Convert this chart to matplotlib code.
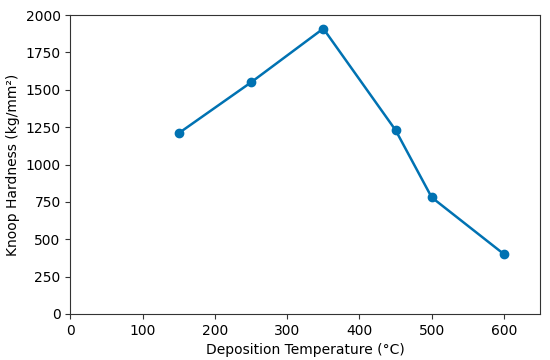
import matplotlib
matplotlib.use("Agg")
import matplotlib.pyplot as plt

# Deposition temperature vs Knoop hardness
temps = [150, 250, 350, 450, 500, 600]
hardness = [1210, 1550, 1910, 1230, 780, 400]

plt.rcParams.update({
    "font.family": "DejaVu Sans",
    "font.size": 10,
    "axes.edgecolor": "#333333",
    "xtick.color": "#333333",
    "ytick.color": "#333333",
    "xtick.labelcolor": "black",
    "ytick.labelcolor": "black",
})

fig, ax = plt.subplots(figsize=(5.5, 3.6), dpi=100)
ax.plot(temps, hardness, color="#0072B2", marker="o", markersize=6, linewidth=1.8)
ax.set_xlim(0, 650)
ax.set_ylim(0, 2000)
ax.set_xticks(range(0, 700, 100))
ax.set_yticks(range(0, 2001, 250))
ax.set_xlabel("Deposition Temperature (°C)")
ax.set_ylabel("Knoop Hardness (kg/mm²)")

fig.subplots_adjust(left=0.128, right=0.982, top=0.958, bottom=0.128)
fig.savefig("out.png", dpi=100)
